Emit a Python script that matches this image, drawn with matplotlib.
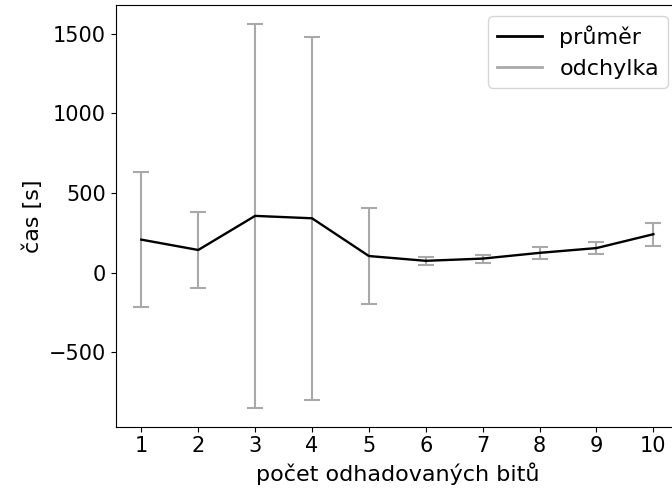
import matplotlib
matplotlib.use("Agg")
import matplotlib.pyplot as plt
from matplotlib.lines import Line2D

# počet odhadovaných bitů
bity = [1, 2, 3, 4, 5, 6, 7, 8, 9, 10]
# průměrný čas [s]
prumer = [207, 142, 356, 341, 104, 74, 88, 124, 154, 241]
# směrodatná odchylka [s]
odchylka = [422, 238, 1203, 1141, 299, 27, 25, 36, 39, 73]

fig = plt.figure(figsize=(6.72, 4.92), dpi=100)
ax = fig.add_axes([0.1722, 0.1327, 0.8382, 0.857])

ax.errorbar(bity, prumer, yerr=odchylka, fmt='none', ecolor='darkgray',
            elinewidth=1.5, capsize=5.6, capthick=1.5, zorder=2)
ax.plot(bity, prumer, color='black', linewidth=1.7, zorder=3)

ax.set_xticks(bity)
ax.tick_params(labelsize=15)
ax.set_xlabel("počet odhadovaných bitů", fontsize=16)
ax.set_ylabel("čas [s]", fontsize=16)

handles = [Line2D([], [], color='black', linewidth=2),
           Line2D([], [], color='darkgray', linewidth=2)]
ax.legend(handles, ["průměr", "odchylka"], loc='upper right', fontsize=16)

fig.savefig("out.png", dpi=100)
